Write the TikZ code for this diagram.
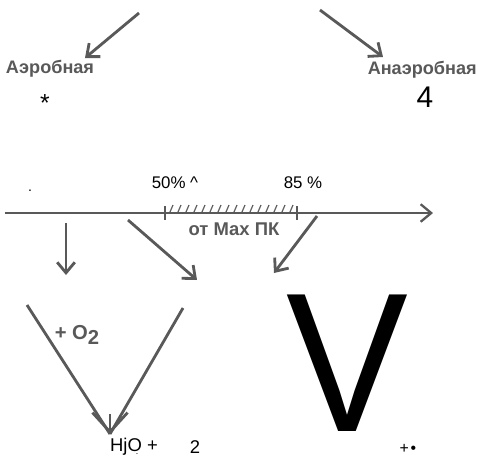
\documentclass[tikz,border=0pt]{standalone}
\usepackage{fontspec}
\setmainfont{Liberation Sans}
\usetikzlibrary{arrows.meta}

\tikzset{
  greyline/.style={draw=black!65, line width=1.6pt},
  greyarrow/.style={greyline, -{Straight Barb[length=6pt,width=10pt]}},
  kind/.style={text=black!65, font=\bfseries\fontsize{10.3}{10}\selectfont, inner sep=0pt},
  plain/.style={text=black, inner sep=0pt}
}

\begin{document}
\begin{tikzpicture}[x=0.02cm, y=-0.02cm]

    \useasboundingbox[fill=white] (0,0) rectangle (478,464);

    % TOP: THE TWO KINDS
    \node[kind] (aer) at (50,69) {Аэробная};
    \node[kind, anchor=east] (anaer) at (477,70) {Анаэробная};
    \coordinate (aerfrom) at (139,13);
    \coordinate (aertip) at (85,58);
    \coordinate (anaerfrom) at (320,10);
    \coordinate (anaertip) at (383,57);
    \draw[greyarrow] (aerfrom) -- (aertip);
    \draw[greyarrow] (anaerfrom) -- (anaertip);
    \node[plain, font=\fontsize{14}{14}\selectfont] (star) at (45,103) {*};
    \node[plain, font=\fontsize{17}{17}\selectfont] (four) at (425,97) {4};

    % THE AXIS
    \coordinate (axstart) at (5,213);
    \coordinate (axend) at (433,213);
    \coordinate (t50) at (165,213);
    \coordinate (t85) at (297,213);
    \draw[greyline, line width=1.3pt, -{Straight Barb[length=6pt,width=10pt]}] (axstart) -- (axend);
    \draw[greyline, line width=1.3pt] ([yshift=4pt]t50) -- ([yshift=-4pt]t50);
    \draw[greyline, line width=1.3pt] ([yshift=4pt]t85) -- ([yshift=-4pt]t85);
    \foreach \x in {170,178,...,290}
        \draw[black!62, line width=0.7pt] (\x,212) -- ++(3,-7);
    \node[plain, font=\fontsize{9.6}{9.6}\selectfont] (p50) at (175,183) {50\% \^{}};
    \node[plain, font=\fontsize{9.6}{9.6}\selectfont] (p85) at (303,183) {85 \%};
    \node[plain, font=\fontsize{8}{8}\selectfont] (dot) at (30,191) {.};
    \node[kind, font=\bfseries\fontsize{10.5}{10}\selectfont] (maxpk) at (234,229) {от Мах ПК};

    % ARROWS UNDER THE AXIS
    \coordinate (a1) at (66,223);
    \coordinate (a1tip) at (66,275);
    \coordinate (a2) at (128,220);
    \coordinate (a2tip) at (197,280);
    \coordinate (a3) at (317,216);
    \coordinate (a3tip) at (274,273);
    \draw[greyarrow] (a1) -- (a1tip);
    \draw[greyarrow] (a2) -- (a2tip);
    \draw[greyarrow] (a3) -- (a3tip);

    % THE LOWER V
    \coordinate (vl) at (27,305);
    \coordinate (vr) at (183,308);
    \coordinate (vstem) at (110,414);
    \coordinate (vbot) at (110,434);
    \draw[greyline] (vl) -- (vbot);
    \draw[greyline] (vr) -- (vbot);
    \draw[greyline, -{Straight Barb[length=11pt,width=20pt]}] (vstem) -- (vbot);
    \node[kind, font=\bfseries\fontsize{11.5}{11.5}\selectfont] (otwo) at (77,335) {+ O\raisebox{-3pt}{2}};

    % BOTTOM TEXTS
    \node[plain, font=\fontsize{10.5}{10.5}\selectfont] (water) at (134,447) {HjO +};
    \node[plain, font=\fontsize{10.5}{10.5}\selectfont] (two) at (195,447) {2};
    \node[plain, font=\fontsize{5}{5}\selectfont] (sub) at (137,454) {.};
    \node[plain, font=\fontsize{113}{113}\selectfont] (bigv) at (347,363) {\scalebox{0.92}[1]{V}};
    \node[plain, font=\fontsize{9}{9}\selectfont] (plusdot) at (408,449) {+\kern1pt•};

\end{tikzpicture}
\end{document}
